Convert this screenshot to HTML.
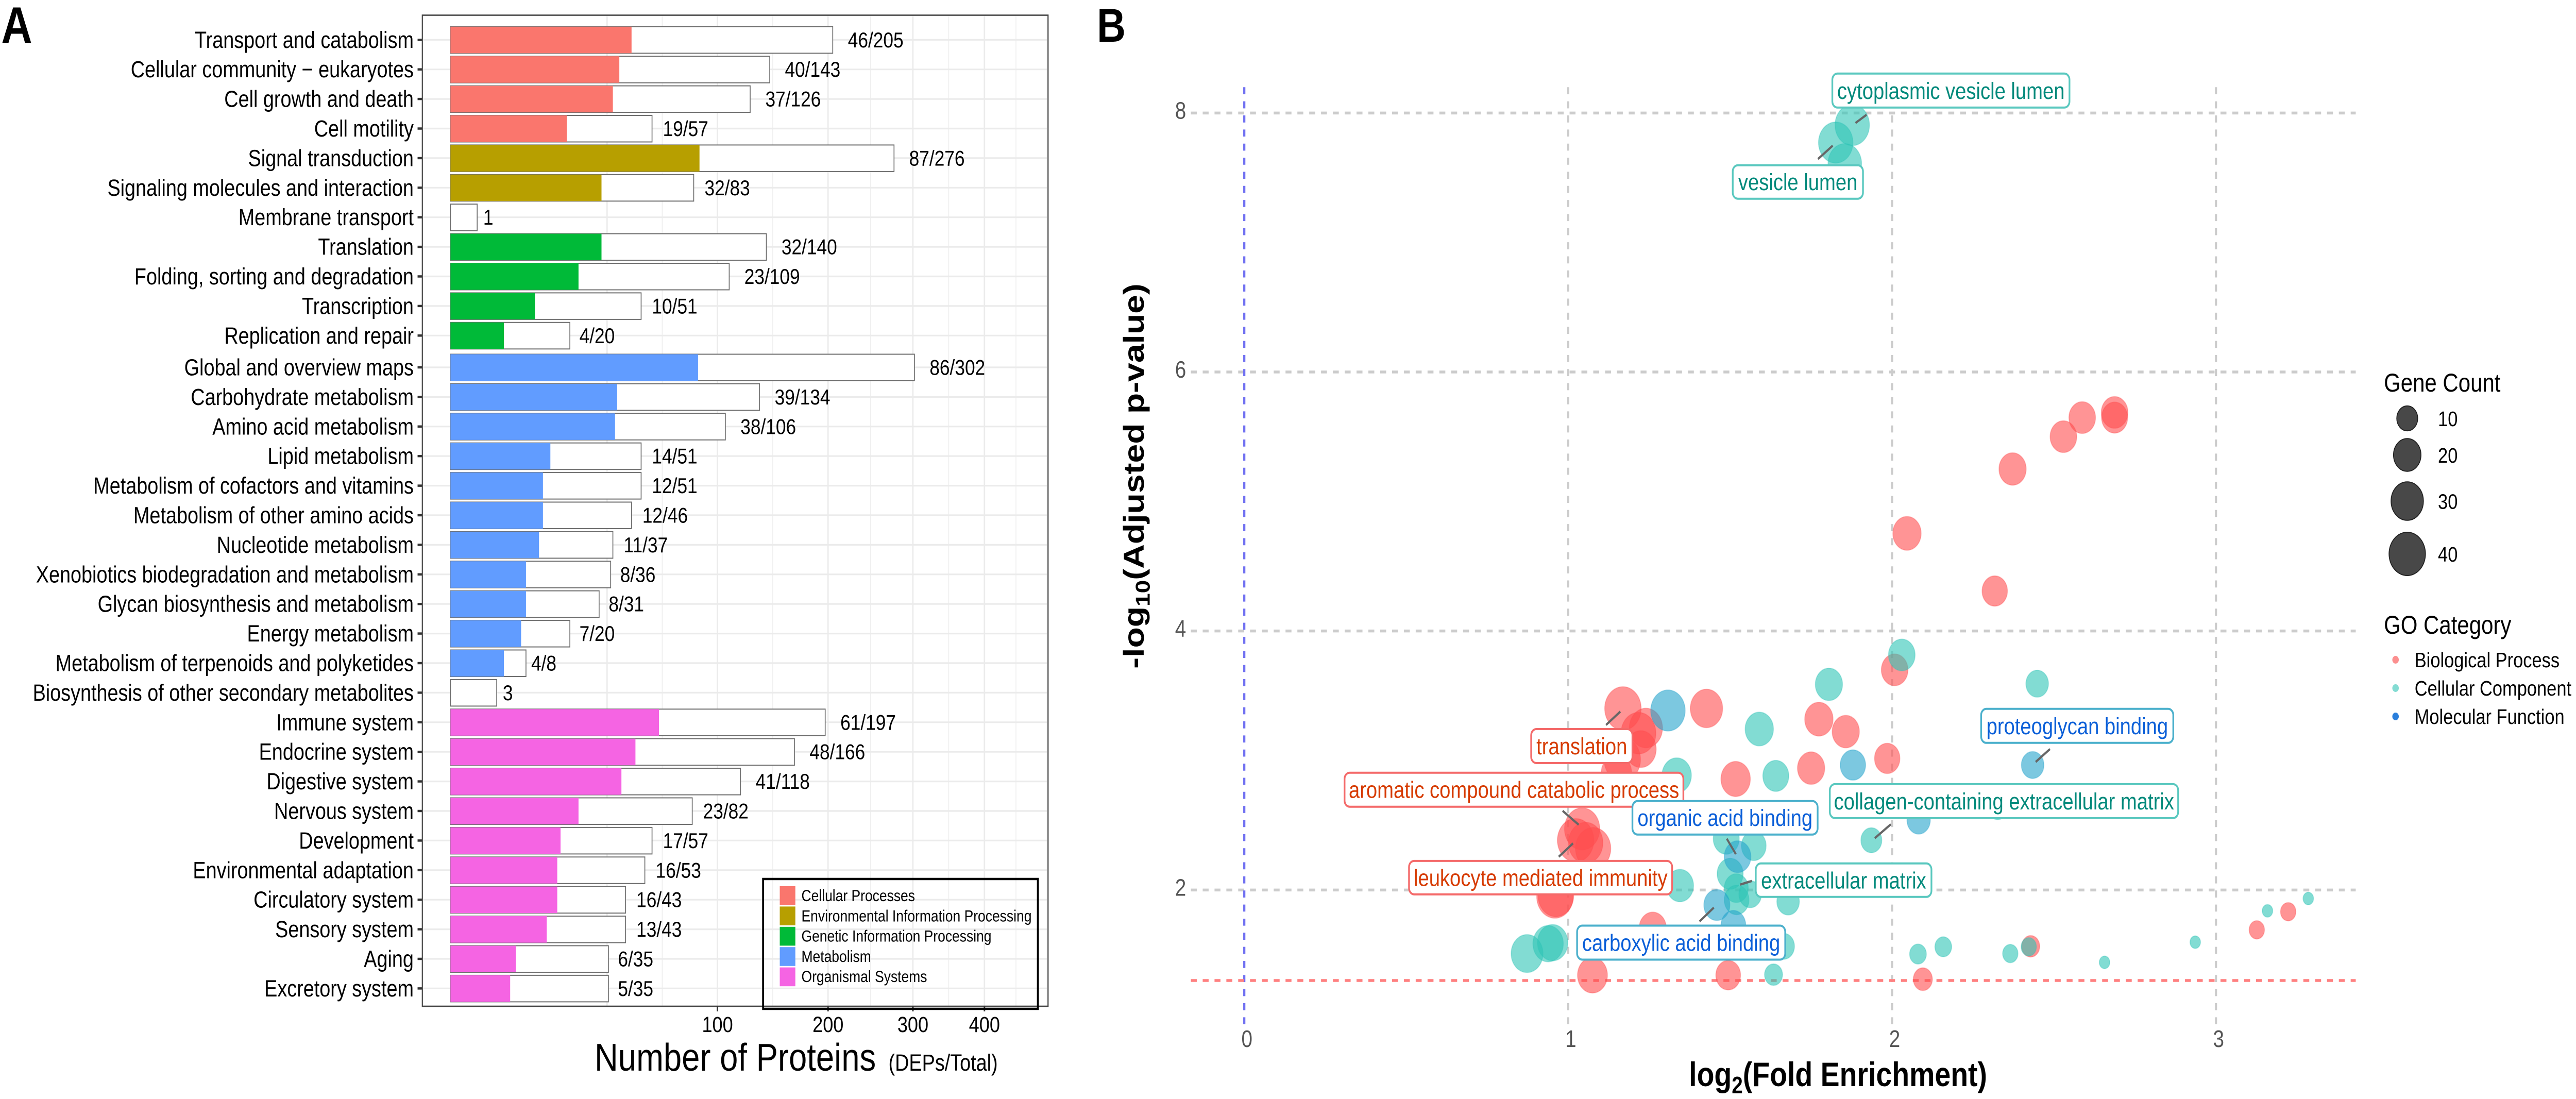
<!DOCTYPE html>
<html lang="en">
<head>
<meta charset="utf-8">
<title>Pathway and GO enrichment figure</title>
<style>
  html, body { margin: 0; padding: 0; background: #ffffff; width: 100%; height: 100%; overflow: hidden; }
  svg { display: block; width: 100vw; height: 100vh; overflow: hidden; font-family: "Liberation Sans", Arial, sans-serif; }
</style>
</head>
<body>
<svg id="figure" xmlns="http://www.w3.org/2000/svg" width="5953" height="2133" viewBox="0 0 5953 2133" preserveAspectRatio="none">
  <rect x="0" y="0" width="5953" height="2133" fill="#ffffff"/>
  <text x="3" y="83" font-size="99" font-weight="700" fill="#000">A</text>
  <text x="2535" y="81" font-size="92" font-weight="700" fill="#000">B</text>
  <g id="panelA"></g>
  <g id="panelB"></g>
  <text x="1374" y="2078" font-size="75.5" fill="#000">Number of Proteins <tspan font-size="45" dx="8">(DEPs/Total)</tspan></text>
  <text x="3903" y="2108" font-size="66" font-weight="700" fill="#000">log<tspan font-size="46" dy="14">2</tspan><tspan dy="-14">(Fold Enrichment)</tspan></text>
  <text transform="translate(2643,924) rotate(-90)" text-anchor="middle" font-size="66" font-weight="700" fill="#000">-log<tspan font-size="46" dy="14">10</tspan><tspan dy="-14">(Adjusted p-value)</tspan></text>
  <text x="5509" y="760" font-size="50" fill="#000">Gene Count</text>
  <text x="5509" y="1230" font-size="50" fill="#000">GO Category</text>
</svg>
<script>
// ---------- Panel A data ----------
var pathways = ["Transport and catabolism","Cellular community \u2212 eukaryotes","Cell growth and death","Cell motility","Signal transduction","Signaling molecules and interaction","Membrane transport","Translation","Folding, sorting and degradation","Transcription","Replication and repair","Global and overview maps","Carbohydrate metabolism","Amino acid metabolism","Lipid metabolism","Metabolism of cofactors and vitamins","Metabolism of other amino acids","Nucleotide metabolism","Xenobiotics biodegradation and metabolism","Glycan biosynthesis and metabolism","Energy metabolism","Metabolism of terpenoids and polyketides","Biosynthesis of other secondary metabolites","Immune system","Endocrine system","Digestive system","Nervous system","Development","Environmental adaptation","Circulatory system","Sensory system","Aging","Excretory system"];
var depCounts = [46,40,37,19,87,32,0,32,23,10,4,86,39,38,14,12,12,11,8,8,7,4,0,61,48,41,23,17,16,16,13,6,5];
var totalCounts = [205,143,126,57,276,83,1,140,109,51,20,302,134,106,51,51,46,37,36,31,20,8,3,197,166,118,82,57,53,43,43,35,35];
var pathwayGroups = [0,0,0,0,1,1,1,2,2,2,2,3,3,3,3,3,3,3,3,3,3,3,3,4,4,4,4,4,4,4,4,4,4];
var groupNames = ["Cellular Processes","Environmental Information Processing","Genetic Information Processing","Metabolism","Organismal Systems"];
var xBreaks = [34.4,100,200,300,400,500];
var xTickLabels = [100,200,300,400];

// ---------- Panel B data ----------
var foldEnrichment = [2.687,2.687,2.587,2.529,2.372,2.046,2.317,2.008,1.169,1.240,1.217,1.224,1.167,1.149,1.427,1.517,1.750,1.985,1.774,1.857,1.043,1.023,1.077,1.054,0.959,0.962,1.261,1.305,1.075,1.494,2.095,2.428,3.126,3.223,
  1.877,1.826,1.854,1.805,2.030,2.448,1.590,1.335,1.641,2.326,1.936,1.345,1.488,1.573,1.500,1.519,1.520,1.562,1.679,1.665,1.276,0.952,0.938,0.873,1.634,2.080,2.158,2.365,2.422,2.656,2.936,3.159,3.285,
  1.308,1.879,2.434,2.082,1.523,1.459,1.510];
var negLogP = [5.688,5.648,5.648,5.501,5.251,4.754,4.309,3.700,3.402,3.251,3.211,3.088,3.008,2.904,3.402,2.857,2.941,3.016,3.319,3.223,2.472,2.384,2.320,2.364,1.950,1.958,1.704,1.577,1.342,1.342,1.311,1.565,1.692,1.832,
  7.907,7.772,7.609,3.588,3.815,3.593,3.243,2.885,2.881,2.631,2.384,2.034,2.396,2.341,2.125,2.014,1.923,1.967,1.911,1.565,1.597,1.593,1.585,1.509,1.346,1.505,1.561,1.509,1.561,1.441,1.597,1.839,1.934,
  3.386,2.965,2.965,2.539,2.257,1.884,1.728];
var geneCounts = [17,16,17,17,18,20,15,17,38,30,34,25,38,24,28,22,18,15,20,18,35,38,35,33,38,36,18,8,23,14,7,6,4,4,
  33,33,31,18,17,11,20,22,16,7,9,18,16,14,16,13,14,11,11,10,9,24,24,27,6,5,5,4,4,2,2,2,2,
  33,15,11,12,17,16,14];
var goCategories = [0,0,0,0,0,0,0,0,0,0,0,0,0,0,0,0,0,0,0,0,0,0,0,0,0,0,0,0,0,0,0,0,0,0,
  1,1,1,1,1,1,1,1,1,1,1,1,1,1,1,1,1,1,1,1,1,1,1,1,1,1,1,1,1,1,1,1,1,
  2,2,2,2,2,2,2];
var goNames = ["Biological Process","Cellular Component","Molecular Function"];
var labelTexts = ["translation","aromatic compound catabolic process","leukocyte mediated immunity","organic acid binding","cytoplasmic vesicle lumen","vesicle lumen","proteoglycan binding","collagen-containing extracellular matrix","extracellular matrix","carboxylic acid binding"];
var labelPoints = [8,20,21,71,34,35,69,44,49,72];
var yTicks = [2,4,6,8];
var xTicks = [0,1,2,3];
var sizeLegendCounts = [10,20,30,40];
var significanceThreshold = 1.301;

var NS = "http://www.w3.org/2000/svg";
function mk(tag, attrs, parent) {
  var el = document.createElementNS(NS, tag);
  for (var k in attrs) { el.setAttribute(k, attrs[k]); }
  parent.appendChild(el);
  return el;
}
function slug(s) { return String(s).toLowerCase().replace(/[^a-z0-9]+/g, "-").replace(/^-|-$/g, ""); }

// ---------- Panel A ----------
function drawPanelA() {
  var root = document.getElementById("panelA");
  var colors = ["#FA766D","#B79F00","#00BA38","#619CFF","#F564E3"];
  var left = 976, right = 2422, top = 29.5, bottom = 1953;
  function xs(v) { return 1041 + 61.7 * Math.sqrt(v); }
  function rowY(i) { return 77.3 + i * 57.4 + (i >= 11 ? 4.3 : 0); }
  var i, el;

  for (i = 0; i < xBreaks.length; i++) {
    el = mk("line", {x1: xs(xBreaks[i]), x2: xs(xBreaks[i]), y1: top, y2: bottom, stroke: "#ebebeb", "stroke-width": 3.2}, root);
    
    
    if (i < xBreaks.length - 1) {
      var midA = Math.pow((Math.sqrt(xBreaks[i]) + Math.sqrt(xBreaks[i + 1])) / 2, 2);
      el = mk("line", {x1: xs(midA), x2: xs(midA), y1: top, y2: bottom, stroke: "#efefef", "stroke-width": 2}, root);
      
      
    }
  }
  for (i = 0; i < pathways.length; i++) {
    el = mk("line", {x1: left, x2: right, y1: rowY(i), y2: rowY(i), stroke: "#ebebeb", "stroke-width": 3.2}, root);
    
    
  }
  for (i = 0; i < pathways.length; i++) {
    var y = rowY(i);
    el = mk("rect", {x: 1041, y: y - 25.5, width: xs(totalCounts[i]) - 1041, height: 51.5, fill: "#ffffff", stroke: "#6e6e6e", "stroke-width": 2}, root);
    
    
    if (depCounts[i] > 0) {
      el = mk("rect", {x: 1041, y: y - 25.5, width: xs(depCounts[i]) - 1041, height: 51.5, fill: colors[pathwayGroups[i]]}, root);
      
      
    }
    el = mk("line", {x1: 965, x2: 976, y1: y, y2: y, stroke: "#333", "stroke-width": 4.5}, root);
    
    
    el = mk("text", {x: 956, y: y + 15.5, "text-anchor": "end", "font-size": 45, fill: "#000"}, root);
    el.textContent = pathways[i];
    
    
    var valueText = depCounts[i] > 0 ? depCounts[i] + "/" + totalCounts[i] : String(totalCounts[i]);
    var offsets = {1: 14, 3: 12, 4: 22, 5: 25, 6: 35};
    el = mk("text", {x: xs(totalCounts[i]) + offsets[valueText.length], y: y + 14.5, "font-size": 42, fill: "#000"}, root);
    el.textContent = valueText;
    
    
  }
  el = mk("rect", {x: left, y: top, width: right - left, height: bottom - top, fill: "none", stroke: "#444", "stroke-width": 2.6}, root);
  
  
  for (i = 0; i < xTickLabels.length; i++) {
    var tx = xs(xTickLabels[i]);
    el = mk("line", {x1: tx, x2: tx, y1: bottom, y2: 1963, stroke: "#333", "stroke-width": 3.5}, root);
    
    
    el = mk("text", {x: tx, y: 2003, "text-anchor": "middle", "font-size": 43, fill: "#000"}, root);
    el.textContent = xTickLabels[i];
    
    
  }
  el = mk("rect", {x: 1763.5, y: 1706, width: 635, height: 252, fill: "none", stroke: "#000", "stroke-width": 4.5}, root);
  
  
  for (i = 0; i < groupNames.length; i++) {
    el = mk("rect", {x: 1802, y: 1720 + i * 39.4, width: 36, height: 36.6, fill: colors[i]}, root);
    
    
    el = mk("text", {x: 1852, y: 1749 + i * 39.3, "font-size": 31.5, fill: "#000"}, root);
    el.textContent = groupNames[i];
    
    
  }
}

// ---------- Panel B ----------
function drawPanelB() {
  var root = document.getElementById("panelB");
  function xs(v) { return 2875.5 + 748.5 * v; }
  function ys(v) { return 219.4 + (8 - v) * 251.32; }
  function diameter(c) { return 19.5 + 70.7 * Math.sqrt(Math.max(c - 1.8, 0) / 43.2); }
  var xLeft = 2752, xRight = 5444, yTop = 169.3, yBottom = 1988;
  var dash = "13.7 13.65";
  var i, el;

  for (i = 0; i < yTicks.length; i++) {
    el = mk("line", {x1: xLeft, x2: xRight, y1: ys(yTicks[i]), y2: ys(yTicks[i]), stroke: "#cccccc", "stroke-width": 5.5, "stroke-dasharray": dash}, root);
    
    
    el = mk("text", {x: 2741, y: ys(yTicks[i]) + 11, "text-anchor": "end", "font-size": 46, fill: "#555"}, root);
    el.textContent = yTicks[i];
    
    
  }
  for (i = 0; i < xTicks.length; i++) {
    if (xTicks[i] !== 0) {
      el = mk("line", {x1: xs(xTicks[i]), x2: xs(xTicks[i]), y1: yTop, y2: yBottom, stroke: "#cccccc", "stroke-width": 5, "stroke-dasharray": dash}, root);
      
      
    }
    el = mk("text", {x: xs(xTicks[i]) + 6, y: 2032, "text-anchor": "middle", "font-size": 46, fill: "#555"}, root);
    el.textContent = xTicks[i];
    
    
  }
  el = mk("line", {x1: xs(0), x2: xs(0), y1: yTop, y2: yBottom, stroke: "#6f6ff2", "stroke-width": 5, "stroke-dasharray": dash}, root);
  
  
  el = mk("line", {x1: xLeft, x2: xRight, y1: ys(significanceThreshold), y2: ys(significanceThreshold), stroke: "#ff8080", "stroke-width": 5.5, "stroke-dasharray": dash}, root);
  
  

  var fills = ["#FF4D4F","#2EC4B6","#25A3CB"];
  for (i = 0; i < foldEnrichment.length; i++) {
    el = mk("circle", {cx: xs(foldEnrichment[i]), cy: ys(negLogP[i]), r: diameter(geneCounts[i]) / 2, fill: fills[goCategories[i]], "fill-opacity": 0.6, stroke: fills[goCategories[i]], "stroke-opacity": 0.35, "stroke-width": 2}, root);
    
    
  }

  // Repel-style layout for the labels: offsets from the anchor point.
  var labelLayout = [
    {l:-214, t:38,  w:238, h:70, s:[-6,6,-39,32]},
    {l:-551, t:-111,w:787, h:70, s:[-8,-8,-45,-35]},
    {l:-387, t:38,  w:612, h:69, s:[-6,6,-39,32]},
    {l:-245, t:-110,w:432, h:69, s:[-4,-5,-25,-35]},
    {l:-48,  t:-102,w:552, h:70, s:[7.5,-4,33,-20]},
    {l:-240, t:42,  w:305, h:69, s:[-7,6,-41,32]},
    {l:-121, t:-111,w:448, h:70, s:[7,-6,40,-31]},
    {l:-98,  t:-111,w:809, h:70, s:[8,-4,45,-31]},
    {l:43,   t:-50, w:410, h:69, s:[9,-7,36,-14]},
    {l:-325, t:38,  w:485, h:70, s:[-7,5,-40,32]}
  ];
  var borderColors = ["#F46A6A","#5AC8BF","#4BB0CC"];
  var textColors = ["#D63A00","#00897B","#0B5FD8"];
  for (i = 0; i < labelTexts.length; i++) {
    var p = labelPoints[i];
    var px = xs(foldEnrichment[p]), py = ys(negLogP[p]);
    var L = labelLayout[i];
    var cat = goCategories[p];
    el = mk("line", {x1: px + L.s[0], y1: py + L.s[1], x2: px + L.s[2], y2: py + L.s[3], stroke: "#666", "stroke-width": 4.5}, root);
    
    
    el = mk("rect", {x: px + L.l + 2, y: py + L.t + 2, width: L.w - 4, height: L.h - 4, rx: 12, ry: 12, fill: "#ffffff", stroke: borderColors[cat], "stroke-width": 4}, root);
    
    
    el = mk("text", {x: px + L.l + L.w / 2, y: py + L.t + L.h / 2 + 16, "text-anchor": "middle", "font-size": 45.5, fill: textColors[cat]}, root);
    el.textContent = labelTexts[i];
    
    
  }

  // Size legend
  var sizeLegendRows = [812, 883, 972.5, 1075];
  for (i = 0; i < sizeLegendCounts.length; i++) {
    el = mk("circle", {cx: 5563, cy: sizeLegendRows[i], r: diameter(sizeLegendCounts[i]) / 2 - 1, fill: "#484848", stroke: "#222", "stroke-width": 2}, root);
    
    
    el = mk("text", {x: 5634, y: sizeLegendRows[i] + 15, "font-size": 41, fill: "#000"}, root);
    el.textContent = sizeLegendCounts[i];
    
    
  }
  // Category legend
  var dotColors = ["#FC8F8F","#84DCD3","#2A7FDC"];
  for (i = 0; i < goNames.length; i++) {
    el = mk("circle", {cx: 5536, cy: 1280.5 + i * 55, r: 7.5, fill: dotColors[i]}, root);
    
    
    el = mk("text", {x: 5580, y: 1295 + i * 55, "font-size": 41, fill: "#000"}, root);
    el.textContent = goNames[i];
    
    
  }
}

drawPanelA();
drawPanelB();
</script>
</body>
</html>
